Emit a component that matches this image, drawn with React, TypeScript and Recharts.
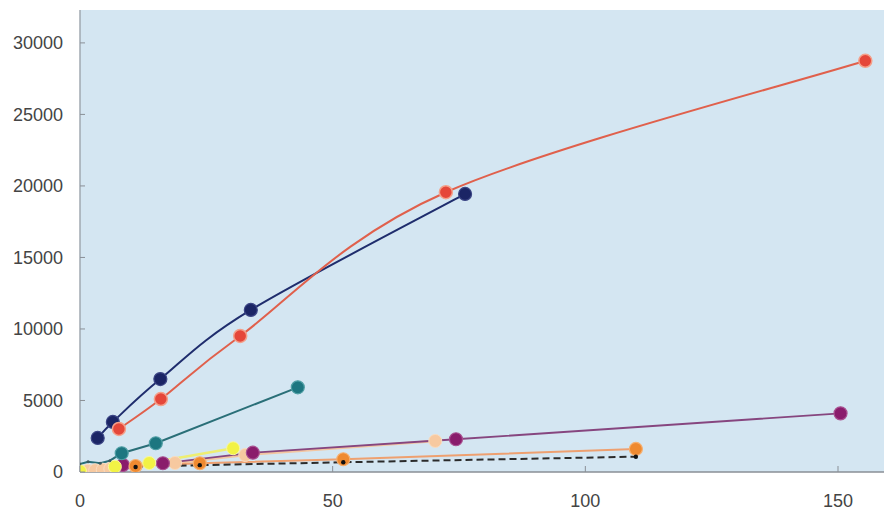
import React from "react";
import { LineChart, Line, XAxis, YAxis, CartesianGrid } from "recharts";

// x = time-like value, y = cumulative value
const redSeries = [
  { x: 7.7, y: 3010 },
  { x: 16.0, y: 5100 },
  { x: 31.7, y: 9510 },
  { x: 72.4, y: 19560 },
  { x: 155.4, y: 28750 },
];
const navySeries = [
  { x: 3.5, y: 2380 },
  { x: 6.5, y: 3500 },
  { x: 15.9, y: 6500 },
  { x: 33.8, y: 11330 },
  { x: 76.2, y: 19440 },
];
const tealSeries = [
  { x: 0, y: 560 },
  { x: 1.6, y: 720 },
  { x: 4.0, y: 610 },
  { x: 5.9, y: 790 },
  { x: 8.25, y: 1310 },
  { x: 15.0, y: 2010 },
  { x: 43.1, y: 5920 },
];
const purpleSeries = [
  { x: 8.5, y: 490 },
  { x: 16.4, y: 610 },
  { x: 34.2, y: 1350 },
  { x: 74.4, y: 2290 },
  { x: 150.5, y: 4100 },
];
const peachSeries = [
  { x: 0, y: 0 },
  { x: 1.5, y: 80 },
  { x: 3.0, y: 120 },
  { x: 4.5, y: 160 },
  { x: 6.0, y: 220 },
  { x: 18.8, y: 630 },
  { x: 32.7, y: 1190 },
  { x: 70.3, y: 2170 },
];
const yellowSeries = [
  { x: 0, y: 50 },
  { x: 6.9, y: 370 },
  { x: 13.7, y: 630 },
  { x: 30.3, y: 1660 },
];
const orangeSeries = [
  { x: 11.0, y: 420 },
  { x: 23.7, y: 610 },
  { x: 52.1, y: 890 },
  { x: 110.0, y: 1610 },
];
const blackSeries = [
  { x: 11.0, y: 350 },
  { x: 23.7, y: 480 },
  { x: 52.1, y: 680 },
  { x: 110.0, y: 1070 },
];

const xTicks = [0, 50, 100, 150];
const yTicks = [0, 5000, 10000, 15000, 20000, 25000, 30000];

const Y_MARGIN = 17;
const X_MARGIN = 22;

// Spreadsheet-style smoothed line (Catmull-Rom with 1/6 control offsets)
function smoothCurve(context: any) {
  let pts: number[][] = [];
  return {
    areaStart() {},
    areaEnd() {},
    lineStart() {
      pts = [];
    },
    lineEnd() {
      const n = pts.length;
      if (n === 0) return;
      context.moveTo(pts[0][0], pts[0][1]);
      if (n === 1) return;
      for (let i = 0; i < n - 1; i++) {
        const p0 = pts[Math.max(i - 1, 0)];
        const p1 = pts[i];
        const p2 = pts[i + 1];
        const p3 = pts[Math.min(i + 2, n - 1)];
        const c1x = p1[0] + (p2[0] - p0[0]) / 6;
        const c1y = p1[1] + (p2[1] - p0[1]) / 6;
        const c2x = p2[0] - (p3[0] - p1[0]) / 6;
        const c2y = p2[1] - (p3[1] - p1[1]) / 6;
        context.bezierCurveTo(c1x, c1y, c2x, c2y, p2[0], p2[1]);
      }
    },
    point(x: number, y: number) {
      pts.push([+x, +y]);
    },
  };
}

const YTick = (props: any) => {
  const { x, y, payload } = props;
  const ax = x + Y_MARGIN;
  return (
    <g>
      <line x1={ax} x2={ax + 5} y1={y} y2={y} stroke="#8a8f96" strokeWidth={1} />
      <text x={x} y={y} dy="0.35em" textAnchor="end" fill="#444" fontSize={18} fontFamily="Liberation Sans, Arial, sans-serif">
        {payload.value}
      </text>
    </g>
  );
};

const XTick = (props: any) => {
  const { x, y, payload } = props;
  const ay = y - X_MARGIN;
  return (
    <g>
      <line x1={x} x2={x} y1={ay} y2={ay - 6} stroke="#8a8f96" strokeWidth={1} />
      <text x={x} y={y} dy="0.71em" textAnchor="middle" fill="#444" fontSize={18} fontFamily="Liberation Sans, Arial, sans-serif">
        {payload.value}
      </text>
    </g>
  );
};

const TealDot = (props: any) => {
  const { cx, cy, payload, index } = props;
  if (payload.x < 8) {
    return <circle key={index} cx={cx} cy={cy} r={1.5} fill="#3d5a60" />;
  }
  return <circle key={index} cx={cx} cy={cy} r={6.5} fill="#1d7680" stroke="#4f9ea4" strokeWidth={1.2} />;
};

export default function App() {
  return (
    <div>
      <style>{`body{margin:0}`}</style>
      <LineChart width={884} height={514} margin={{ top: 10, right: 0, left: 0, bottom: 0 }}>
        <CartesianGrid fill="#d4e6f2" horizontal={false} vertical={false} />
        <XAxis
          dataKey="x"
          type="number"
          domain={[0, 159.1]}
          ticks={xTicks}
          allowDataOverflow
          height={42}
          tickSize={0}
          tickMargin={X_MARGIN}
          tick={<XTick />}
          axisLine={{ stroke: "#8a8f96", strokeWidth: 1.5 }}
        />
        <YAxis
          type="number"
          domain={[0, 32300]}
          ticks={yTicks}
          allowDataOverflow
          width={80}
          tickSize={0}
          tickMargin={Y_MARGIN}
          tick={<YTick />}
          axisLine={{ stroke: "#a0a8b0", strokeWidth: 1.5 }}
        />
        <Line
          data={peachSeries}
          dataKey="y"
          type="linear"
          stroke="#f3c6a2"
          strokeWidth={2.5}
          dot={{ r: 6.5, fill: "#f7c9a0", stroke: "#f9dcc0", strokeWidth: 1 }}
          isAnimationActive={false}
        />
        <Line
          data={purpleSeries}
          dataKey="y"
          type="linear"
          stroke="#86467f"
          strokeWidth={1.8}
          dot={{ r: 6.5, fill: "#8a1c6c", stroke: "#a85090", strokeWidth: 1.2 }}
          isAnimationActive={false}
        />
        <Line
          data={yellowSeries}
          dataKey="y"
          type="linear"
          stroke="#eeee72"
          strokeWidth={2.5}
          dot={{ r: 6.5, fill: "#f2f245", stroke: "#f8f8a0", strokeWidth: 1 }}
          isAnimationActive={false}
        />
        <Line
          data={orangeSeries}
          dataKey="y"
          type="linear"
          stroke="#eea070"
          strokeWidth={2}
          dot={{ r: 6.5, fill: "#ef8a30", stroke: "#f6b070", strokeWidth: 1.2 }}
          isAnimationActive={false}
        />
        <Line
          data={blackSeries}
          dataKey="y"
          type="linear"
          stroke="#2b2b2b"
          strokeWidth={2}
          strokeDasharray="7 4"
          dot={{ r: 2.2, fill: "#111", stroke: "none" }}
          isAnimationActive={false}
        />
        <Line
          data={tealSeries}
          dataKey="y"
          type="linear"
          stroke="#2a6f78"
          strokeWidth={2}
          dot={<TealDot />}
          isAnimationActive={false}
        />
        <Line
          data={navySeries}
          dataKey="y"
          type={smoothCurve as any}
          stroke="#1f2d6d"
          strokeWidth={2}
          dot={{ r: 6.5, fill: "#1b2565", stroke: "#3b4585", strokeWidth: 1.2 }}
          isAnimationActive={false}
        />
        <Line
          data={redSeries}
          dataKey="y"
          type={smoothCurve as any}
          stroke="#e0604c"
          strokeWidth={2}
          dot={{ r: 6.5, fill: "#e5473a", stroke: "#f4a08a", strokeWidth: 1.5 }}
          isAnimationActive={false}
        />
      </LineChart>
    </div>
  );
}
